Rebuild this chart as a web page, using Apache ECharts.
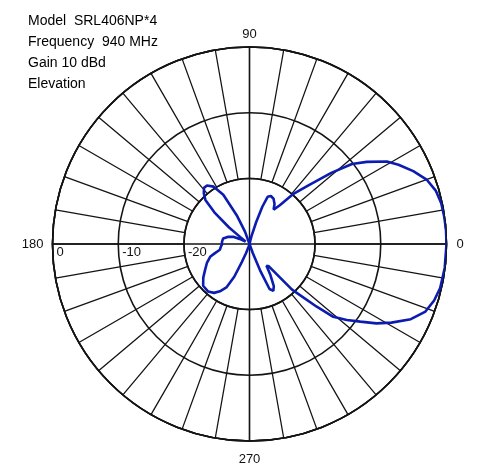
<!DOCTYPE html>
<html>
<head>
<meta charset="utf-8">
<script src="https://cdn.jsdelivr.net/npm/echarts@6/dist/echarts.min.js"></script>
<style>
html,body{margin:0;padding:0;background:#fff;}
#chart{width:485px;height:464px;}
</style>
</head>
<body>
<div id="chart"></div>
<script>
// Title lines
const titleLines = ['Model  SRL406NP*4', 'Frequency  940 MHz', 'Gain 10 dBd', 'Elevation'];
// Angle tick labels (degrees)
const angleTicks = [0, 90, 180, 270];
// Radial (dB) tick labels
const dbTicks = [-20, -10, 0];
// Elevation pattern: angles (deg) and relative level (dB)
const angles = [0,4,8,12,16,20,24,28,31,35,38,41,45,49,52,55,58,62,66,69,71,73,76,80,90,105,110,114,118,122,126,129,132,135,138,141,143,148,153,156,162,168,175,181,186,191,195,198,204,210,216,222,229,234,238,242,245,247,249,252,260,285,290,292,294,297,300,304,308,311,313,317,319,322,325,328,331,335,339,343,347,353,360];
const levels = [0,0,-0.05,-0.15,-0.5,-1.3,-2.7,-4.3,-5.6,-8.2,-10.2,-13.5,-17.5,-20,-22.5,-23.6,-22.8,-22.2,-22,-22.3,-24,-26.5,-28.8,-30,-30,-30,-28,-25.2,-21.5,-19.7,-19,-19,-19.6,-20.5,-22.8,-26,-28.2,-29.3,-28.3,-27.3,-26.5,-25.9,-25.8,-25.8,-25.6,-25.4,-24.5,-23.7,-22.9,-22.2,-21.3,-20.5,-20.4,-20.8,-21.5,-22.5,-24.5,-27,-28.5,-29.6,-30,-30,-28.5,-25.5,-22.5,-22,-22.6,-24.3,-25.8,-25.5,-20.5,-16,-13.1,-11.2,-9.4,-7.2,-5.3,-2.9,-1.3,-0.6,-0.2,-0.05,0];

const data = angles.map((a, i) => [levels[i], a]);
const C = [249.5, 244];
const R = 197;
const gridColor = '#141414';
const FONT = 'Liberation Sans, Arial, sans-serif';
const labStyle = {fontSize: 13, color: '#111', fontFamily: FONT};

const chart = echarts.init(document.getElementById('chart'), null, {renderer: 'canvas'});
chart.setOption({
  animation: false,
  backgroundColor: '#ffffff',
  title: {
    text: titleLines.join('\n'),
    left: 23, top: 6,
    textStyle: {fontFamily: FONT, fontSize: 14, fontWeight: 'normal', color: '#000', lineHeight: 21}
  },
  polar: [
    {center: C, radius: [65.5, R]},
    {center: C, radius: [0, R]}
  ],
  angleAxis: [
    {
      polarIndex: 0, type: 'value', min: 0, max: 360, interval: 10,
      startAngle: 180, clockwise: false,
      axisLine: {show: true, lineStyle: {color: gridColor, width: 1.6}},
      axisTick: {show: false}, axisLabel: {show: false},
      splitLine: {show: true, lineStyle: {color: gridColor, width: 1.3}}
    },
    {
      polarIndex: 1, type: 'value', min: 0, max: 360, interval: 90,
      startAngle: 0, clockwise: false,
      axisLine: {show: true, lineStyle: {color: gridColor, width: 1.6}},
      axisTick: {show: false},
      axisLabel: {
        show: true, margin: 6, fontSize: 13, color: '#111', fontFamily: FONT,
        formatter: v => angleTicks.indexOf(v) >= 0 ? '{a' + v + '|' + v + '}' : '',
        rich: {
          a0: Object.assign({padding: [0, 0, 0, 4]}, labStyle),
          a90: Object.assign({}, labStyle),
          a180: Object.assign({padding: [0, 3, 0, 0]}, labStyle),
          a270: Object.assign({padding: [6, 0, 0, 0]}, labStyle)
        }
      },
      splitLine: {show: true, lineStyle: {color: gridColor, width: 1.4}}
    }
  ],
  radiusAxis: [
    {
      polarIndex: 0, type: 'value', min: dbTicks[0], max: dbTicks[dbTicks.length - 1], interval: 10,
      axisLine: {show: false}, axisTick: {show: false},
      axisLabel: {
        show: true, fontSize: 13, color: '#111', margin: 8, align: 'left', verticalAlign: 'middle',
        padding: [0, 0, 0, 4], fontFamily: FONT,
        formatter: v => String(v)
      },
      splitLine: {show: true, lineStyle: {color: gridColor, width: 1.6}}
    },
    {
      polarIndex: 1, type: 'value', min: -30, max: 0,
      axisLine: {show: false}, axisTick: {show: false}, axisLabel: {show: false},
      splitLine: {show: false}
    }
  ],
  series: [{
    type: 'line',
    coordinateSystem: 'polar',
    polarIndex: 1,
    data: data,
    showSymbol: false,
    smooth: false,
    lineStyle: {color: '#0c1cb0', width: 2.6},
    z: 5
  }]
});
</script>
</body>
</html>
